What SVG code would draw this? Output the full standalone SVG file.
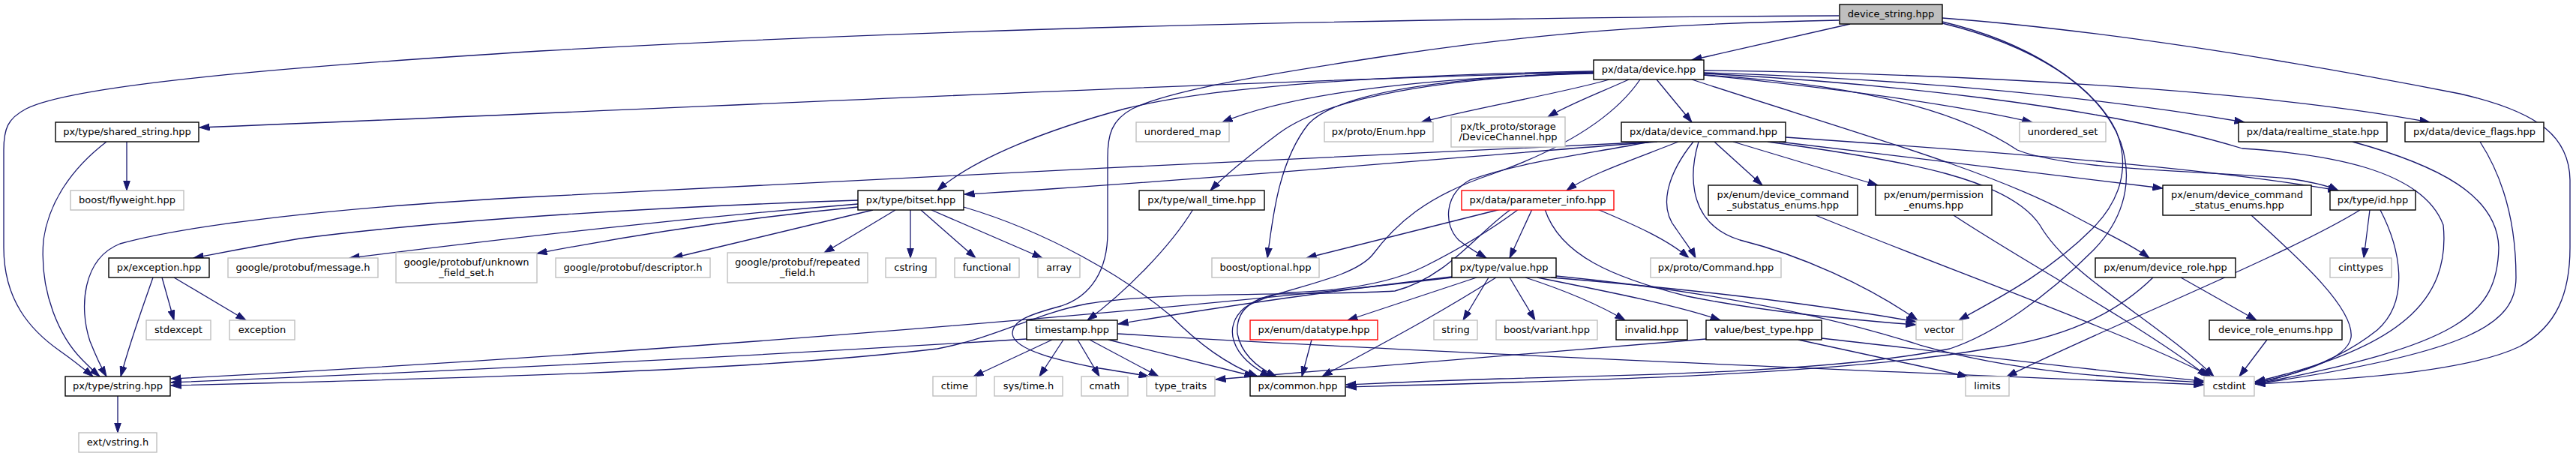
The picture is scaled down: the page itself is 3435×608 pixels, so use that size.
<svg xmlns="http://www.w3.org/2000/svg" width="3435" height="608" viewBox="0 0 3435 608">
<defs>
<marker id="ah" markerUnits="userSpaceOnUse" markerWidth="14" markerHeight="10" viewBox="0 0 14 10" refX="13.5" refY="5" orient="auto">
<path d="M0,0.5 L13.5,5 L0,9.5 z" fill="#191970" stroke="#191970" stroke-width="1"/>
</marker>
<style>
.e{fill:none;stroke:#191970;stroke-width:1.3;marker-end:url(#ah)}
.b{fill:#fff;stroke:#000;stroke-width:1.4}
.x{fill:#fff;stroke:#bfbfbf;stroke-width:1.4}
.r{fill:#fff;stroke:#ff0000;stroke-width:1.4}
.root{fill:#bfbfbf;stroke:#000;stroke-width:1.4}
text{font-family:"DejaVu Sans","Liberation Sans",sans-serif;font-size:13px;text-anchor:middle;fill:#000}
</style>
</defs>
<rect x="0" y="0" width="3435" height="608" fill="#fff"/>
<g id="edges">
<path class="e" d="M2467,32 L2256,80"/>
<path class="e" d="M2452,21 C1900,24 1300,35 720,68 C400,88 100,112 35,145 C10,158 5,172 5,200 L5,330 C5,400 40,440 80,468 C100,482 112,492 124,502"/>
<path class="e" d="M2452,27 C2200,32 2050,45 1860,73 C1700,97 1560,120 1510,145 C1482,160 1477,180 1477,210 L1477,310 C1477,360 1455,395 1415,408 C1370,420 1350,428 1350,445 C1352,468 1420,482 1460,490 C1490,495 1512,498 1532,502"/>
<path class="e" d="M2590,29 C2700,55 2790,110 2822,175 C2842,225 2825,270 2790,305 C2730,365 2660,400 2612,427"/>
<path class="e" d="M2590,31 C2710,60 2800,115 2828,190 C2848,250 2825,300 2790,335 C2730,395 2660,445 2600,465 C2450,495 2200,500 2000,505 C1900,508 1840,511 1795,513"/>
<path class="e" d="M2590,24 C2800,40 3050,80 3280,125 C3390,150 3426,185 3427,240 L3427,330 C3427,390 3410,435 3360,462 C3280,500 3100,507 3007,512"/>
<path class="e" d="M2125,96 C1600,110 900,145 266,170"/>
<path class="e" d="M2125,95 C1850,100 1620,115 1500,145 C1400,172 1300,210 1250,254"/>
<path class="e" d="M2125,98 C1900,103 1720,125 1630,163"/>
<path class="e" d="M2146,106 C2080,125 1960,145 1895,163"/>
<path class="e" d="M2172,106 C2130,125 2090,140 2064,156"/>
<path class="e" d="M2125,97 C1920,104 1770,130 1705,178 C1665,208 1632,235 1614,254"/>
<path class="e" d="M2125,97 C1900,104 1780,128 1745,165 C1705,215 1697,290 1690,344"/>
<path class="e" d="M2187,106 C2150,160 2080,200 1990,232 C1900,262 1860,300 1830,340 C1800,375 1700,385 1660,410 C1630,435 1640,475 1694,502"/>
<path class="e" d="M2209,106 L2256,163"/>
<path class="e" d="M2256,106 C2450,170 2650,225 2760,285 C2810,312 2845,328 2866,344"/>
<path class="e" d="M2272,100 C2450,118 2600,138 2710,163"/>
<path class="e" d="M2272,97 C2550,105 2800,130 2993,163"/>
<path class="e" d="M2272,94 C2600,98 3000,118 3240,163"/>
<path class="e" d="M2272,98 C2500,110 2800,140 2990,198 C3100,205 3230,225 3258,300 C3268,400 3200,465 3007,509"/>
<path class="e" d="M2272,100 C2520,115 2630,160 2690,200 C2760,228 2950,228 3050,238 C3080,242 3105,248 3118,254"/>
<path class="e" d="M2238,189 C2180,212 2120,232 2089,254"/>
<path class="e" d="M2205,189 C1800,205 1100,245 720,262 C450,276 250,300 160,325 C110,345 105,410 120,455 C128,475 135,490 142,502"/>
<path class="e" d="M2210,189 C2000,205 1700,232 1400,252 C1340,256 1310,258 1286,259"/>
<path class="e" d="M2200,189 C2120,205 2030,215 1960,240 C1925,260 1925,300 1945,320 C1960,332 1972,338 1982,344"/>
<path class="e" d="M2258,189 C2225,230 2210,275 2235,305 C2245,320 2255,332 2261,344"/>
<path class="e" d="M2265,189 C2250,240 2255,300 2320,320 C2400,340 2490,380 2557,427"/>
<path class="e" d="M2286,189 L2350,247"/>
<path class="e" d="M2311,189 L2504,247"/>
<path class="e" d="M2357,189 C2550,215 2680,240 2720,300 C2760,370 2880,430 2952,502"/>
<path class="e" d="M2372,189 C2550,210 2750,235 2884,251"/>
<path class="e" d="M2381,183 C2700,205 2950,225 3118,254"/>
<path class="e" d="M2001,279 L1742,344"/>
<path class="e" d="M2043,279 L2013,344"/>
<path class="e" d="M2130,279 C2180,300 2225,320 2252,344"/>
<path class="e" d="M2025,279 C1990,305 1950,330 1900,355 C1850,380 1780,388 1720,390 C1660,395 1648,420 1650,445 C1655,470 1672,488 1702,502"/>
<path class="e" d="M2015,279 C1970,310 1930,370 1860,388 C1750,395 1550,388 1450,405 C1380,418 1330,450 1250,465 C1000,495 600,505 228,514"/>
<path class="e" d="M2060,279 C2080,340 2150,370 2250,395 C2350,415 2450,425 2555,433"/>
<path class="e" d="M1936,369 C1800,385 1650,405 1491,432"/>
<path class="e" d="M1936,370 C1600,410 900,470 228,505"/>
<path class="e" d="M1969,370 L1797,427"/>
<path class="e" d="M1985,370 L1951,427"/>
<path class="e" d="M2013,370 L2047,427"/>
<path class="e" d="M2034,370 C2080,385 2130,405 2167,427"/>
<path class="e" d="M2050,370 C2150,390 2240,408 2294,427"/>
<path class="e" d="M2068,370 C2250,385 2420,405 2555,429"/>
<path class="e" d="M2075,368 C2300,390 2450,425 2560,460 C2700,500 2850,505 2939,510"/>
<path class="e" d="M1995,370 C1900,430 1820,470 1763,502"/>
<path class="e" d="M1403,453 L1298,502"/>
<path class="e" d="M1418,453 L1386,502"/>
<path class="e" d="M1437,453 L1466,502"/>
<path class="e" d="M1453,453 L1545,502"/>
<path class="e" d="M1478,453 L1673,502"/>
<path class="e" d="M1490,445 C1900,470 2500,495 2939,513"/>
<path class="e" d="M1369,452 C1000,475 600,495 228,510"/>
<path class="e" d="M1591,279 C1560,330 1500,390 1450,427"/>
<path class="e" d="M1144,267 C900,275 600,292 400,318 C330,330 290,338 258,344"/>
<path class="e" d="M1144,272 C900,292 700,315 466,344"/>
<path class="e" d="M1144,276 C1000,290 850,312 716,338"/>
<path class="e" d="M1164,280 L897,344"/>
<path class="e" d="M1194,280 L1099,337"/>
<path class="e" d="M1214,280 L1214,344"/>
<path class="e" d="M1228,280 L1301,344"/>
<path class="e" d="M1242,280 L1390,344"/>
<path class="e" d="M1285,276 C1400,310 1500,370 1560,420 C1600,460 1635,485 1677,502"/>
<path class="e" d="M169,189 L169,254"/>
<path class="e" d="M142,189 C95,225 65,270 58,320 C52,390 80,450 110,480 C118,488 125,495 133,502"/>
<path class="e" d="M216,370 L232,427"/>
<path class="e" d="M232,370 L328,427"/>
<path class="e" d="M204,370 C192,405 175,450 161,502"/>
<path class="e" d="M157,527 L157,577"/>
<path class="e" d="M1749,453 L1736,502"/>
<path class="e" d="M2275,452 C2000,475 1800,493 1621,506"/>
<path class="e" d="M2398,453 L2624,502"/>
<path class="e" d="M2429,451 C2600,470 2800,495 2939,508"/>
<path class="e" d="M2908,370 L3009,427"/>
<path class="e" d="M2871,370 C2820,420 2750,452 2650,465 C2450,500 2100,508 1795,516"/>
<path class="e" d="M3023,453 L2986,502"/>
<path class="e" d="M3147,280 C3050,340 2800,440 2676,502"/>
<path class="e" d="M3160,280 L3152,344"/>
<path class="e" d="M3174,280 C3200,330 3215,400 3170,440 C3120,480 3060,500 3007,511"/>
<path class="e" d="M3137,189 C3250,220 3330,260 3332,330 C3330,420 3280,460 3007,512"/>
<path class="e" d="M3307,189 C3340,240 3355,300 3355,370 C3355,430 3300,470 3007,512"/>
<path class="e" d="M3002,287 C3060,340 3140,410 3135,450 C3130,480 3060,500 3007,510"/>
<path class="e" d="M2421,287 C2600,360 2850,450 2948,502"/>
<path class="e" d="M2605,287 C2700,350 2850,430 2944,502"/>
</g>
<g id="n_device_string"><rect class="root" x="2453" y="6" width="137" height="26"/><text x="2521.5" y="23">device_string.hpp</text></g>
<g id="n_device"><rect class="b" x="2125" y="80" width="147" height="26"/><text x="2198.5" y="97">px/data/device.hpp</text></g>
<g id="n_shared_string"><rect class="b" x="74" y="163" width="191" height="26"/><text x="169.5" y="180">px/type/shared_string.hpp</text></g>
<g id="n_unordered_map"><rect class="x" x="1515" y="163" width="124" height="26"/><text x="1577" y="180">unordered_map</text></g>
<g id="n_enum"><rect class="x" x="1766" y="163" width="145" height="26"/><text x="1838.5" y="180">px/proto/Enum.hpp</text></g>
<g id="n_devicechannel"><rect class="x" x="1935" y="156" width="152" height="40"/><text x="2011" y="173">px/tk_proto/storage</text><text x="2011" y="187">/DeviceChannel.hpp</text></g>
<g id="n_device_command"><rect class="b" x="2162" y="163" width="219" height="26"/><text x="2271.5" y="180">px/data/device_command.hpp</text></g>
<g id="n_unordered_set"><rect class="x" x="2693" y="163" width="115" height="26"/><text x="2750.5" y="180">unordered_set</text></g>
<g id="n_realtime_state"><rect class="b" x="2985" y="163" width="198" height="26"/><text x="3084" y="180">px/data/realtime_state.hpp</text></g>
<g id="n_device_flags"><rect class="b" x="3207" y="163" width="185" height="26"/><text x="3299.5" y="180">px/data/device_flags.hpp</text></g>
<g id="n_flyweight"><rect class="x" x="94" y="254" width="151" height="26"/><text x="169.5" y="271">boost/flyweight.hpp</text></g>
<g id="n_bitset"><rect class="b" x="1144" y="254" width="141" height="26"/><text x="1214.5" y="271">px/type/bitset.hpp</text></g>
<g id="n_wall_time"><rect class="b" x="1519" y="254" width="167" height="26"/><text x="1602.5" y="271">px/type/wall_time.hpp</text></g>
<g id="n_parameter_info"><rect class="r" x="1949" y="254" width="203" height="26"/><text x="2050.5" y="271">px/data/parameter_info.hpp</text></g>
<g id="n_substatus"><rect class="b" x="2278" y="247" width="199" height="40"/><text x="2377.5" y="264">px/enum/device_command</text><text x="2377.5" y="278">_substatus_enums.hpp</text></g>
<g id="n_permission"><rect class="b" x="2501" y="247" width="155" height="40"/><text x="2578.5" y="264">px/enum/permission</text><text x="2578.5" y="278">_enums.hpp</text></g>
<g id="n_status_enums"><rect class="b" x="2884" y="247" width="198" height="40"/><text x="2983" y="264">px/enum/device_command</text><text x="2983" y="278">_status_enums.hpp</text></g>
<g id="n_id"><rect class="b" x="3107" y="254" width="114" height="26"/><text x="3164" y="271">px/type/id.hpp</text></g>
<g id="n_exception_hpp"><rect class="b" x="145" y="344" width="134" height="26"/><text x="212" y="361">px/exception.hpp</text></g>
<g id="n_message"><rect class="x" x="304" y="344" width="200" height="26"/><text x="404" y="361">google/protobuf/message.h</text></g>
<g id="n_unknown_field_set"><rect class="x" x="528" y="337" width="188" height="40"/><text x="622" y="354">google/protobuf/unknown</text><text x="622" y="368">_field_set.h</text></g>
<g id="n_descriptor"><rect class="x" x="741" y="344" width="206" height="26"/><text x="844" y="361">google/protobuf/descriptor.h</text></g>
<g id="n_repeated_field"><rect class="x" x="970" y="337" width="187" height="40"/><text x="1063.5" y="354">google/protobuf/repeated</text><text x="1063.5" y="368">_field.h</text></g>
<g id="n_cstring"><rect class="x" x="1181" y="344" width="67" height="26"/><text x="1214.5" y="361">cstring</text></g>
<g id="n_functional"><rect class="x" x="1273" y="344" width="86" height="26"/><text x="1316" y="361">functional</text></g>
<g id="n_array"><rect class="x" x="1384" y="344" width="56" height="26"/><text x="1412" y="361">array</text></g>
<g id="n_optional"><rect class="x" x="1616" y="344" width="143" height="26"/><text x="1687.5" y="361">boost/optional.hpp</text></g>
<g id="n_value"><rect class="b" x="1936" y="344" width="139" height="26"/><text x="2005.5" y="361">px/type/value.hpp</text></g>
<g id="n_command"><rect class="x" x="2201" y="344" width="174" height="26"/><text x="2288" y="361">px/proto/Command.hpp</text></g>
<g id="n_device_role"><rect class="b" x="2794" y="344" width="187" height="26"/><text x="2887.5" y="361">px/enum/device_role.hpp</text></g>
<g id="n_cinttypes"><rect class="x" x="3107" y="344" width="82" height="26"/><text x="3148" y="361">cinttypes</text></g>
<g id="n_stdexcept"><rect class="x" x="195" y="427" width="86" height="26"/><text x="238" y="444">stdexcept</text></g>
<g id="n_exception"><rect class="x" x="306" y="427" width="87" height="26"/><text x="349.5" y="444">exception</text></g>
<g id="n_timestamp"><rect class="b" x="1369" y="427" width="121" height="26"/><text x="1429.5" y="444">timestamp.hpp</text></g>
<g id="n_datatype"><rect class="r" x="1667" y="427" width="170" height="26"/><text x="1752" y="444">px/enum/datatype.hpp</text></g>
<g id="n_string"><rect class="x" x="1912" y="427" width="58" height="26"/><text x="1941" y="444">string</text></g>
<g id="n_variant"><rect class="x" x="1995" y="427" width="135" height="26"/><text x="2062.5" y="444">boost/variant.hpp</text></g>
<g id="n_invalid"><rect class="b" x="2155" y="427" width="95" height="26"/><text x="2202.5" y="444">invalid.hpp</text></g>
<g id="n_best_type"><rect class="b" x="2275" y="427" width="154" height="26"/><text x="2352" y="444">value/best_type.hpp</text></g>
<g id="n_vector"><rect class="x" x="2555" y="427" width="62" height="26"/><text x="2586" y="444">vector</text></g>
<g id="n_role_enums"><rect class="b" x="2946" y="427" width="177" height="26"/><text x="3034.5" y="444">device_role_enums.hpp</text></g>
<g id="n_string_hpp"><rect class="b" x="87" y="502" width="140" height="26"/><text x="157" y="519">px/type/string.hpp</text></g>
<g id="n_ctime"><rect class="x" x="1244" y="502" width="58" height="26"/><text x="1273" y="519">ctime</text></g>
<g id="n_systime"><rect class="x" x="1326" y="502" width="91" height="26"/><text x="1371.5" y="519">sys/time.h</text></g>
<g id="n_cmath"><rect class="x" x="1442" y="502" width="62" height="26"/><text x="1473" y="519">cmath</text></g>
<g id="n_type_traits"><rect class="x" x="1529" y="502" width="91" height="26"/><text x="1574.5" y="519">type_traits</text></g>
<g id="n_common"><rect class="b" x="1667" y="502" width="127" height="26"/><text x="1730.5" y="519">px/common.hpp</text></g>
<g id="n_limits"><rect class="x" x="2621" y="502" width="58" height="26"/><text x="2650" y="519">limits</text></g>
<g id="n_cstdint"><rect class="x" x="2939" y="502" width="67" height="26"/><text x="2972.5" y="519">cstdint</text></g>
<g id="n_vstring"><rect class="x" x="105" y="577" width="104" height="26"/><text x="157" y="594">ext/vstring.h</text></g>
</svg>
